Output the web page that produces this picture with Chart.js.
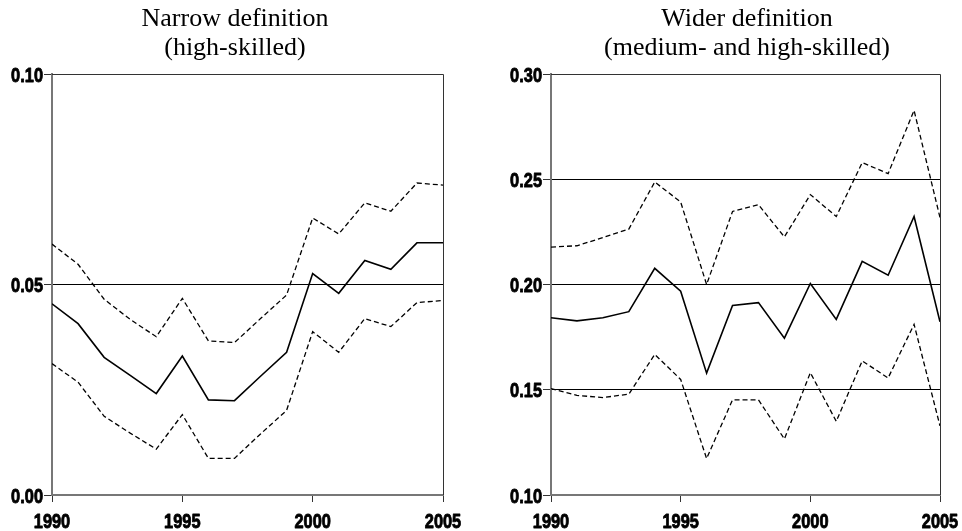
<!DOCTYPE html>
<html>
<head>
<meta charset="utf-8">
<title>Narrow and wider definition</title>
<script src="https://cdn.jsdelivr.net/npm/chart.js@4.4.1/dist/chart.umd.min.js"></script>
<style>
  html, body { margin: 0; padding: 0; background: #fff; }
  .wrap { display: flex; width: 962px; height: 531px; }
  .panel { position: relative; width: 481px; height: 531px; }
</style>
</head>
<body>
<div class="wrap">
  <div class="panel"><canvas id="narrowChart"></canvas></div>
  <div class="panel"><canvas id="widerChart"></canvas></div>
</div>
<script>
// ── Data ────────────────────────────────────────────────────────────────────
const years = [1990, 1991, 1992, 1993, 1994, 1995, 1996, 1997,
               1998, 1999, 2000, 2001, 2002, 2003, 2004, 2005];
const xTicks = [1990, 1995, 2000, 2005];

const narrowEst   = [0.0454, 0.0407, 0.0327, 0.0284, 0.0241, 0.0330, 0.0226, 0.0224,
                     0.0282, 0.0339, 0.0526, 0.0479, 0.0557, 0.0536, 0.0599, 0.0599];
const narrowUpper = [0.0596, 0.0548, 0.0465, 0.0417, 0.0376, 0.0467, 0.0366, 0.0362,
                     0.0419, 0.0475, 0.0658, 0.0620, 0.0694, 0.0674, 0.0741, 0.0736];
const narrowLower = [0.0312, 0.0268, 0.0187, 0.0147, 0.0109, 0.0191, 0.0087, 0.0087,
                     0.0145, 0.0201, 0.0388, 0.0339, 0.0419, 0.0400, 0.0457, 0.0462];
const narrowYTicks = [0.00, 0.05, 0.10];

const widerEst   = [0.1842, 0.1827, 0.1842, 0.1871, 0.2077, 0.1968, 0.1579, 0.1900,
                    0.1914, 0.1745, 0.2005, 0.1834, 0.2110, 0.2044, 0.2323, 0.1823];
const widerUpper = [0.2178, 0.2184, 0.2223, 0.2263, 0.2487, 0.2392, 0.2000, 0.2347,
                    0.2379, 0.2226, 0.2427, 0.2323, 0.2579, 0.2527, 0.2827, 0.2318];
const widerLower = [0.1505, 0.1473, 0.1463, 0.1479, 0.1668, 0.1549, 0.1173, 0.1452,
                    0.1452, 0.1266, 0.1581, 0.1350, 0.1637, 0.1556, 0.1811, 0.1328];
const widerYTicks = [0.10, 0.15, 0.20, 0.25, 0.30];

// ── Styles ──────────────────────────────────────────────────────────────────
const TICK_FONT  = "bold 21px 'Liberation Sans', Arial, sans-serif";
const TICK_SQUASH = 0.78;   // Stata-like condensed labels
const TITLE_FONT = "26px 'Liberation Serif', 'DejaVu Serif', serif";

// box edges: top/right thin dark, left/bottom come from the axis borders
const framePlugin = {
  id: 'frame',
  afterDraw(chart) {
    const { ctx, chartArea: a } = chart;
    ctx.save();
    ctx.strokeStyle = '#333';
    ctx.lineWidth = 1;
    ctx.beginPath();
    ctx.moveTo(a.left, a.top + 0.5);
    ctx.lineTo(a.right + 0.5, a.top + 0.5);
    ctx.lineTo(a.right + 0.5, a.bottom);
    ctx.stroke();
    ctx.restore();
  }
};

// heavy condensed tick labels, placed from the chart's own scales
function drawLabel(ctx, text, x, y) {
  ctx.save();
  ctx.translate(x, y);
  ctx.scale(TICK_SQUASH, 1);
  ctx.strokeText(text, 0, 0);
  ctx.fillText(text, 0, 0);
  ctx.restore();
}

const tickLabelPlugin = {
  id: 'tickLabels',
  afterDraw(chart) {
    const { ctx, chartArea: a, scales } = chart;
    ctx.save();
    ctx.font = TICK_FONT;
    ctx.fillStyle = '#000';
    ctx.strokeStyle = '#000';
    ctx.lineWidth = 0.9;
    ctx.lineJoin = 'round';
    ctx.textBaseline = 'alphabetic';

    const xs = scales.x;
    ctx.textAlign = 'center';
    xs.ticks.forEach(t => {
      drawLabel(ctx, String(t.value), xs.getPixelForValue(t.value), a.bottom + 33);
    });

    const ys = scales.y;
    ctx.textAlign = 'right';
    ys.ticks.forEach(t => {
      drawLabel(ctx, Number(t.value).toFixed(2), a.left - 9, ys.getPixelForValue(t.value) + 7.5);
    });
    ctx.restore();
  }
};

// two-line serif heading above each panel
const headingPlugin = {
  id: 'heading',
  afterDraw(chart, args, opts) {
    const { ctx } = chart;
    ctx.save();
    ctx.font = TITLE_FONT;
    ctx.fillStyle = '#000';
    ctx.textAlign = 'center';
    ctx.textBaseline = 'alphabetic';
    opts.lines.forEach((line, i) => {
      ctx.fillText(line, opts.center, 26 + i * 29);
    });
    ctx.restore();
  }
};

function series(values, dashed) {
  return {
    data: years.map((y, i) => ({ x: y, y: values[i] })),
    borderColor: '#000',
    borderWidth: dashed ? 1.3 : 1.6,
    borderDash: dashed ? [5, 3] : [],
    pointRadius: 0,
    tension: 0,
    fill: false,
  };
}

function buildChart(id, opts) {
  const yt = opts.yTicks;
  const edge = v => Math.abs(v - yt[0]) < 1e-9 || Math.abs(v - yt[yt.length - 1]) < 1e-9;
  return new Chart(document.getElementById(id), {
    type: 'line',
    data: {
      datasets: [
        series(opts.upper, true),
        series(opts.est, false),
        series(opts.lower, true),
      ],
    },
    options: {
      responsive: true,
      maintainAspectRatio: false,
      animation: false,
      layout: { padding: { left: 0, right: opts.padRight, top: 74, bottom: 0 } },
      plugins: {
        legend: { display: false },
        tooltip: { enabled: false },
        title: { display: false },
        heading: { lines: opts.title, center: opts.titleCenter },
      },
      scales: {
        x: {
          type: 'linear',
          min: years[0],
          max: years[years.length - 1],
          afterBuildTicks: s => { s.ticks = xTicks.map(v => ({ value: v })); },
          afterFit: s => { s.height = 36; },
          grid: { drawOnChartArea: false, drawTicks: true, tickLength: 7, tickColor: '#333', lineWidth: 1 },
          border: { display: true, color: '#777', width: 2 },
          ticks: { display: false },
        },
        y: {
          min: yt[0],
          max: yt[yt.length - 1],
          afterBuildTicks: s => { s.ticks = yt.map(v => ({ value: v })); },
          afterFit: s => { s.width = opts.yWidth; },
          grid: {
            drawOnChartArea: true,
            drawTicks: true,
            tickLength: 8,
            tickColor: '#333',
            lineWidth: 1,
            color: c => (c.tick && edge(c.tick.value)) ? 'rgba(0,0,0,0)' : '#000',
          },
          border: { display: true, color: '#777', width: 2 },
          ticks: { display: false },
        },
      },
    },
    plugins: [framePlugin, tickLabelPlugin, headingPlugin],
  });
}

buildChart('narrowChart', {
  title: ['Narrow definition', '(high-skilled)'],
  titleCenter: 235,
  est: narrowEst, upper: narrowUpper, lower: narrowLower,
  yTicks: narrowYTicks,
  yWidth: 52,
  padRight: 38,
});

buildChart('widerChart', {
  title: ['Wider definition', '(medium- and high-skilled)'],
  titleCenter: 266,
  est: widerEst, upper: widerUpper, lower: widerLower,
  yTicks: widerYTicks,
  yWidth: 70,
  padRight: 22,
});
</script>
</body>
</html>
